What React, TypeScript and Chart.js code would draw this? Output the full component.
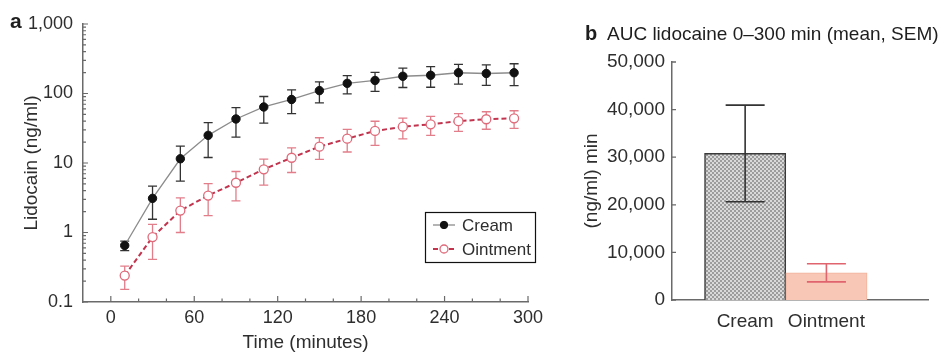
import React, { useEffect, useRef } from 'react';
import { Chart, registerables } from 'chart.js';
Chart.register(...registerables);

// ---- Data (panel a) ----
const times = [10, 30, 50, 70, 90, 110, 130, 150, 170, 190, 210, 230, 250, 270, 290];
const creamMean = [0.65, 3.1, 11.5, 25, 43, 64, 82, 110, 140, 154, 177, 183, 199, 194, 199];
const creamSem = [0.1, 1.55, 6, 13, 19.5, 26.5, 30.5, 36.5, 41, 47, 55, 60, 63, 63.5, 69];
const ointMean = [0.24, 0.86, 2.07, 3.4, 5.2, 8.1, 11.9, 17.2, 22.4, 28.9, 33.3, 36, 40, 42.6, 44];
const ointSem = [0.088, 0.45, 1.07, 1.65, 2.35, 3.3, 4.6, 5.9, 8, 11, 11, 11, 11.5, 12, 12.5];
const seriesNames = ['Cream', 'Ointment'];
const logTicks = [0.1, 1, 10, 100, 1000];
const timeTicks = [0, 60, 120, 180, 240, 300];

// ---- Data (panel b) ----
const aucCategories = ['Cream', 'Ointment'];
const aucMean = [30800, 5700];
const aucSem = [10150, 1900];
const aucTicks = [0, 10000, 20000, 30000, 40000, 50000];

const FONT = 'Liberation Sans, Arial, Helvetica, sans-serif';
const TEXT = '#2e2e2e';
const AXIS = '#6a6a6a';

const creamLine = '#8c8c8c';
const creamPoint = '#111111';
const creamErr = '#333333';
const ointLine = '#c2344e';
const ointPoint = '#e06a7a';
const ointErr = '#e27e8a';

const fmt = (v: number) => Number(v).toLocaleString('en-US');

export default function App() {
  const leftRef = useRef<HTMLCanvasElement>(null);
  const rightRef = useRef<HTMLCanvasElement>(null);

  useEffect(() => {
    const semSets = [creamSem, ointSem];
    const meanSets = [creamMean, ointMean];
    const errColors = [creamErr, ointErr];

    const lineErrors = {
      id: 'lineErrors',
      beforeDatasetsDraw(chart: any) {
        const { ctx } = chart;
        const ys = chart.scales.y;
        chart.data.datasets.forEach((_: any, di: number) => {
          const meta = chart.getDatasetMeta(di);
          ctx.save();
          ctx.strokeStyle = errColors[di];
          ctx.lineWidth = 1.3;
          meta.data.forEach((pt: any, i: number) => {
            const m = meanSets[di][i];
            const s = semSets[di][i];
            const top = ys.getPixelForValue(m + s);
            const bot = ys.getPixelForValue(Math.max(m - s, 0.0001));
            const x = pt.x;
            ctx.beginPath();
            ctx.moveTo(x, top); ctx.lineTo(x, bot);
            ctx.moveTo(x - 4.5, top); ctx.lineTo(x + 4.5, top);
            ctx.moveTo(x - 4.5, bot); ctx.lineTo(x + 4.5, bot);
            ctx.stroke();
          });
          ctx.restore();
        });
      },
    };

    const leftTicks = {
      id: 'leftTicks',
      afterDraw(chart: any) {
        const { ctx } = chart;
        const xs = chart.scales.x;
        const ys = chart.scales.y;
        const left = chart.chartArea.left;
        const bottom = chart.chartArea.bottom;
        ctx.save();
        ctx.strokeStyle = AXIS;
        ctx.lineWidth = 1.2;
        ctx.beginPath();
        for (let e = -1; e <= 3; e++) {
          for (let m = 1; m <= 9; m++) {
            const v = m * Math.pow(10, e);
            if (v > ys.max * 1.0001) break;
            const y = ys.getPixelForValue(v);
            const len = m === 1 ? 5 : 3;
            ctx.moveTo(left, y); ctx.lineTo(left + len, y);
          }
        }
        for (let v = 0; v <= xs.max; v += 20) {
          const x = xs.getPixelForValue(v);
          const len = v % 60 === 0 ? 6 : 3.5;
          ctx.moveTo(x, bottom); ctx.lineTo(x, bottom - len);
        }
        ctx.stroke();
        ctx.restore();
      },
    };

    const boxLegend = {
      id: 'boxLegend',
      afterDraw(chart: any) {
        const { ctx, chartArea } = chart;
        const bx = chartArea.right - 103;
        const by = chartArea.bottom - 90;
        const bw = 110;
        const bh = 50;
        ctx.save();
        ctx.strokeStyle = '#111';
        ctx.lineWidth = 1.2;
        ctx.strokeRect(bx + 0.5, by + 0.5, bw, bh);
        chart.data.datasets.forEach((ds: any, i: number) => {
          const y = by + 13 + i * 24;
          ctx.save();
          ctx.strokeStyle = ds.borderColor;
          ctx.lineWidth = ds.borderWidth;
          ctx.setLineDash(ds.borderDash || []);
          ctx.beginPath();
          ctx.moveTo(bx + 8, y); ctx.lineTo(bx + 30, y);
          ctx.stroke();
          ctx.setLineDash([]);
          ctx.beginPath();
          ctx.arc(bx + 19, y, ds.pointRadius - 0.5, 0, Math.PI * 2);
          ctx.fillStyle = ds.pointBackgroundColor;
          ctx.fill();
          ctx.strokeStyle = ds.pointBorderColor;
          ctx.lineWidth = ds.pointBorderWidth;
          ctx.stroke();
          ctx.restore();
          ctx.fillStyle = TEXT;
          ctx.font = `17px ${FONT}`;
          ctx.textBaseline = 'middle';
          ctx.textAlign = 'left';
          ctx.fillText(ds.label, bx + 37, y + 1);
        });
        ctx.restore();
      },
    };

    const left = new Chart(leftRef.current!, {
      type: 'line',
      data: {
        datasets: [
          {
            label: seriesNames[0],
            data: times.map((t, i) => ({ x: t, y: creamMean[i] })),
            borderColor: creamLine,
            borderWidth: 1.3,
            pointRadius: 4.2,
            pointBackgroundColor: creamPoint,
            pointBorderColor: creamPoint,
            pointBorderWidth: 1,
            tension: 0,
          },
          {
            label: seriesNames[1],
            data: times.map((t, i) => ({ x: t, y: ointMean[i] })),
            borderColor: ointLine,
            borderWidth: 2,
            borderDash: [5, 3],
            pointRadius: 4.5,
            pointBackgroundColor: '#ffffff',
            pointBorderColor: ointPoint,
            pointBorderWidth: 1.3,
            tension: 0,
          },
        ],
      } as any,
      options: {
        animation: false,
        responsive: false,
        events: [],
        layout: { padding: { left: 0, right: 32, top: 24, bottom: 0 } },
        plugins: { legend: { display: false }, tooltip: { enabled: false } },
        scales: {
          x: {
            type: 'linear',
            min: -20,
            max: 300,
            afterBuildTicks: (s: any) => { s.ticks = timeTicks.map((v) => ({ value: v })); },
            afterFit: (s: any) => { s.height = 52; },
            grid: { display: false, drawTicks: false },
            border: { display: true, color: AXIS, width: 1.5 },
            ticks: { padding: 5, color: TEXT, font: { size: 18, family: FONT }, maxRotation: 0, autoSkip: false },
            title: { display: true, text: 'Time (minutes)', color: TEXT, font: { size: 19, family: FONT }, padding: { top: 0, bottom: 0 } },
          },
          y: {
            type: 'logarithmic',
            min: 0.1,
            max: 1000,
            afterBuildTicks: (s: any) => { s.ticks = logTicks.map((v) => ({ value: v, major: true })); },
            afterFit: (s: any) => { s.width = 83; },
            grid: { display: false, drawTicks: false },
            border: { display: true, color: AXIS, width: 1.5 },
            ticks: { padding: 10, color: TEXT, font: { size: 18, family: FONT }, callback: (v: any) => fmt(v) },
            title: { display: true, text: 'Lidocain (ng/ml)', color: TEXT, font: { size: 19, family: FONT }, padding: { top: 20, bottom: 0 } },
          },
        },
      } as any,
      plugins: [lineErrors, leftTicks, boxLegend],
    });

    // pattern for the cream bar
    const pc = document.createElement('canvas');
    pc.width = 4; pc.height = 4;
    const pctx = pc.getContext('2d')!;
    pctx.fillStyle = '#d9d9d9';
    pctx.fillRect(0, 0, 4, 4);
    pctx.fillStyle = '#9c9c9c';
    pctx.fillRect(0, 0, 2, 2);
    pctx.fillRect(2, 2, 2, 2);
    const creamPattern = pctx.createPattern(pc, 'repeat')!;
    const ctxR = rightRef.current!.getContext('2d')!;
    const pattern = ctxR.createPattern(pc, 'repeat') || creamPattern;

    const barErrColors = ['#333333', '#e0646e'];
    const barErrors = {
      id: 'barErrors',
      afterDatasetsDraw(chart: any) {
        const { ctx } = chart;
        const ys = chart.scales.y;
        const meta = chart.getDatasetMeta(0);
        meta.data.forEach((bar: any, i: number) => {
          const top = ys.getPixelForValue(aucMean[i] + aucSem[i]);
          const bot = ys.getPixelForValue(aucMean[i] - aucSem[i]);
          const x = bar.x;
          ctx.save();
          ctx.strokeStyle = barErrColors[i];
          ctx.lineWidth = 1.6;
          ctx.beginPath();
          ctx.moveTo(x, top); ctx.lineTo(x, bot);
          ctx.moveTo(x - 19.5, top); ctx.lineTo(x + 19.5, top);
          ctx.moveTo(x - 19.5, bot); ctx.lineTo(x + 19.5, bot);
          ctx.stroke();
          ctx.restore();
        });
      },
    };

    const rightTicks = {
      id: 'rightTicks',
      afterDraw(chart: any) {
        const { ctx } = chart;
        const ys = chart.scales.y;
        const left = chart.chartArea.left;
        ctx.save();
        ctx.strokeStyle = AXIS;
        ctx.lineWidth = 1.3;
        ctx.beginPath();
        aucTicks.forEach((v) => {
          const y = ys.getPixelForValue(v);
          ctx.moveTo(left, y); ctx.lineTo(left + 4, y);
        });
        ctx.stroke();
        ctx.restore();
      },
    };

    const right = new Chart(rightRef.current!, {
      type: 'bar',
      data: {
        datasets: [
          {
            data: aucCategories.map((c, i) => ({ x: i + 1, y: aucMean[i] })),
            backgroundColor: [pattern, '#f8c7b5'],
            borderColor: ['#3a3a3a', '#f2b39d'],
            borderWidth: [1.5, 1],
            borderSkipped: 'bottom',
            barPercentage: 1,
            categoryPercentage: 1,
          },
        ],
      } as any,
      options: {
        animation: false,
        responsive: false,
        events: [],
        layout: { padding: { left: 0, right: 19, top: 62, bottom: 0 } },
        plugins: { legend: { display: false }, tooltip: { enabled: false } },
        scales: {
          x: {
            type: 'linear',
            offset: false,
            min: 0.1,
            max: 3.25,
            afterBuildTicks: (s: any) => { s.ticks = aucCategories.map((c, i) => ({ value: i + 1 })); },
            afterFit: (s: any) => { s.height = 54; },
            grid: { display: false, drawTicks: false },
            border: { display: true, color: AXIS, width: 1.5 },
            ticks: {
              padding: 10, color: TEXT, font: { size: 19, family: FONT }, maxRotation: 0, autoSkip: false,
              callback: (v: any) => aucCategories[Math.round(v) - 1] ?? '',
            },
          },
          y: {
            min: 0,
            max: 50000,
            afterBuildTicks: (s: any) => { s.ticks = aucTicks.map((v) => ({ value: v })); },
            afterFit: (s: any) => { s.width = 112; },
            grid: { display: false, drawTicks: false },
            border: { display: true, color: AXIS, width: 1.5 },
            ticks: { padding: 7, color: TEXT, font: { size: 19, family: FONT }, callback: (v: any) => fmt(v) },
            title: { display: true, text: '(ng/ml) min', color: TEXT, font: { size: 19, family: FONT }, padding: { top: 20, bottom: 0 } },
          },
        },
      } as any,
      plugins: [barErrors, rightTicks],
    });

    return () => {
      left.destroy();
      right.destroy();
    };
  }, []);

  const abs: React.CSSProperties = { position: 'absolute', fontFamily: FONT, color: '#1e1e1e', lineHeight: 1, whiteSpace: 'nowrap' };

  return (
    <div style={{ position: 'absolute', left: 0, top: 0, width: 947, height: 354, background: '#fff', overflow: 'hidden' }}>
      <canvas ref={leftRef} width={560} height={354} style={{ position: 'absolute', left: 0, top: 0 }} />
      <canvas ref={rightRef} width={387} height={354} style={{ position: 'absolute', left: 560, top: 0 }} />
      <div style={{ ...abs, left: 10, top: 10, fontSize: 21, fontWeight: 'bold' }}>a</div>
      <div style={{ ...abs, left: 585, top: 23, fontSize: 20, fontWeight: 'bold' }}>b</div>
      <div style={{ ...abs, left: 607, top: 24, fontSize: 19 }}>AUC lidocaine 0–300 min (mean, SEM)</div>
    </div>
  );
}
